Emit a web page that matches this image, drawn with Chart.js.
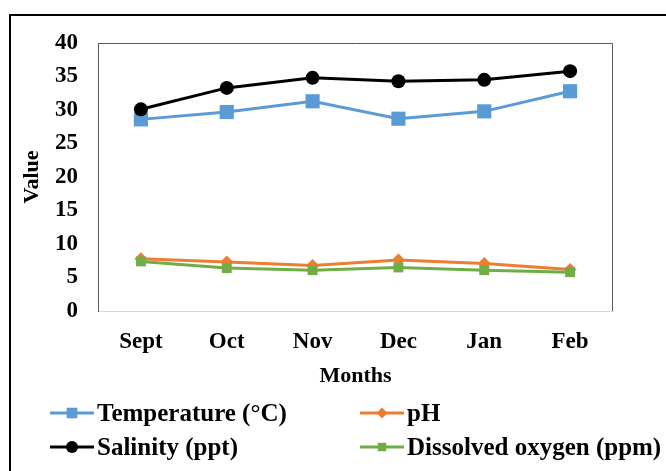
<!DOCTYPE html>
<html>
<head>
<meta charset="utf-8">
<script src="https://cdn.jsdelivr.net/npm/chart.js@4.4.1/dist/chart.umd.min.js"></script>
<style>
    html, body { margin: 0; padding: 0; background: #fff; overflow: hidden; }
    #wrap { position: relative; width: 666px; height: 471px; }
    #frame {
        position: absolute; left: 9px; top: 14px;
        width: 700px; height: 500px;
        border: 2px solid #000; box-sizing: border-box;
    }
    #chart { position: absolute; left: 0; top: 0; }
    #legend {
        position: absolute; left: 50px; top: 396px;
        display: grid; grid-template-columns: 310px 300px; grid-auto-rows: 34px;
        font: bold 25px 'Liberation Serif', 'Times New Roman', serif; color: #000;
    }
    .item { display: flex; align-items: center; white-space: nowrap; }
    .item canvas { margin-right: 3px; }
</style>
</head>
<body>
<div id="wrap">
    <div id="frame"></div>
    <canvas id="chart" width="666" height="471"></canvas>
    <div id="legend"></div>
</div>
<script>
    // ------------------------------------------------------------------
    // Data
    // ------------------------------------------------------------------
    var months = ['Sept', 'Oct', 'Nov', 'Dec', 'Jan', 'Feb'];
    var temperature = [28.6, 29.7, 31.3, 28.7, 29.8, 32.8];
    var ph = [7.8, 7.3, 6.8, 7.6, 7.1, 6.2];
    var salinity = [30.1, 33.3, 34.8, 34.3, 34.5, 35.8];
    var dissolvedOxygen = [7.4, 6.4, 6.1, 6.5, 6.1, 5.8];
    var yTicks = [0, 5, 10, 15, 20, 25, 30, 35, 40];

    var FONT = "'Liberation Serif', 'Times New Roman', serif";

    function series(label, data, color, style, radius, legendRadius, order) {
        return {
            label: label,
            data: data,
            borderColor: color,
            backgroundColor: color,
            borderWidth: 3,
            pointStyle: style,
            pointRadius: radius,
            pointBorderWidth: 0,
            pointBackgroundColor: color,
            legendRadius: legendRadius,
            tension: 0,
            order: order
        };
    }

    var datasets = [
        series('Temperature (°C)', temperature, '#5B9BD5', 'rect', 10, 7.5, 4),
        series('pH', ph, '#ED7D31', 'rectRot', 6.5, 5.5, 3),
        series('Salinity (ppt)', salinity, '#000000', 'circle', 7, 6, 2),
        series('Dissolved oxygen (ppm)', dissolvedOxygen, '#70AD47', 'rect', 7, 6, 1)
    ];

    // top and right edges of the plot frame
    var plotFrame = {
        id: 'plotFrame',
        afterDraw: function(chart) {
            var a = chart.chartArea, ctx = chart.ctx;
            ctx.save();
            ctx.strokeStyle = '#595959';
            ctx.lineWidth = 1;
            ctx.beginPath();
            ctx.moveTo(a.left, a.top + 0.5);
            ctx.lineTo(a.right - 0.5, a.top + 0.5);
            ctx.lineTo(a.right - 0.5, a.bottom);
            ctx.stroke();
            ctx.restore();
        }
    };

    var chart = new Chart(document.getElementById('chart'), {
        type: 'line',
        data: { labels: months, datasets: datasets },
        plugins: [plotFrame],
        options: {
            responsive: false,
            animation: false,
            layout: { padding: { left: 9, top: 43, right: 53, bottom: 80 } },
            plugins: { legend: { display: false }, tooltip: { enabled: false } },
            scales: {
                x: {
                    offset: true,
                    grid: { display: false, drawTicks: false },
                    border: { color: '#d9d9d9', width: 1 },
                    ticks: { color: '#000', padding: 17, font: { family: FONT, size: 23, weight: 'bold' } },
                    title: {
                        display: true, text: 'Months', color: '#000',
                        padding: { top: 0, bottom: 1 },
                        font: { family: FONT, size: 22, weight: 'bold' }
                    },
                    afterFit: function(scale) { scale.height = 80; }
                },
                y: {
                    min: 0, max: 40,
                    afterBuildTicks: function(scale) {
                        scale.ticks = yTicks.map(function(v) { return { value: v }; });
                    },
                    grid: { display: false, drawTicks: false },
                    border: { color: '#595959', width: 1 },
                    ticks: { color: '#000', padding: 20, font: { family: FONT, size: 23, weight: 'bold' } },
                    title: {
                        display: true, text: 'Value', color: '#000',
                        padding: { top: 10, bottom: 0 },
                        font: { family: FONT, size: 22, weight: 'bold' }
                    },
                    afterFit: function(scale) { scale.width = 89; }
                }
            }
        }
    });

    // ------------------------------------------------------------------
    // HTML legend: line with marker, built from the datasets
    // ------------------------------------------------------------------
    function buildLegend() {
        var box = document.getElementById('legend');
        chart.data.datasets.forEach(function(ds) {
            var item = document.createElement('div');
            item.className = 'item';
            var c = document.createElement('canvas');
            c.width = 44; c.height = 20;
            var ctx = c.getContext('2d');
            ctx.strokeStyle = ds.borderColor;
            ctx.lineWidth = 3;
            ctx.beginPath();
            ctx.moveTo(0, 10); ctx.lineTo(44, 10);
            ctx.stroke();
            ctx.fillStyle = ds.borderColor;
            Chart.helpers.drawPoint(ctx, {
                pointStyle: ds.pointStyle,
                radius: ds.legendRadius,
                borderWidth: 0,
                rotation: 0
            }, 22, 10);
            item.appendChild(c);
            var t = document.createElement('span');
            t.textContent = ds.label;
            item.appendChild(t);
            box.appendChild(item);
        });
    }
    buildLegend();
</script>
</body>
</html>
